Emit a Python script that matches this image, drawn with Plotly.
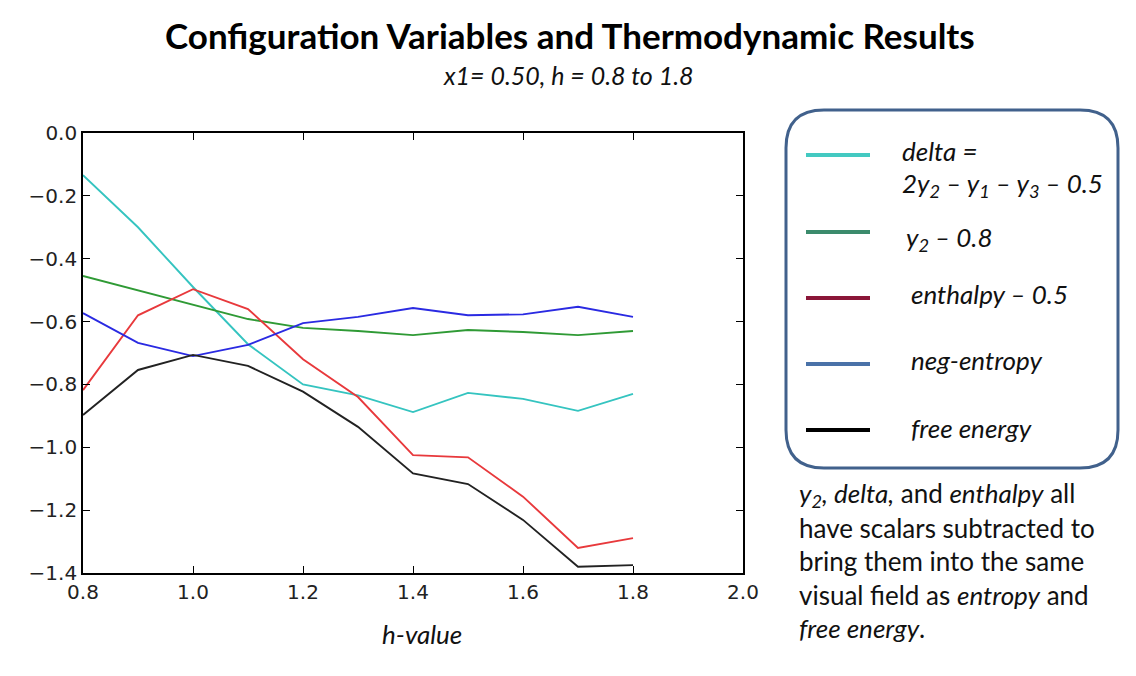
import plotly.graph_objects as go

h_values = [0.8, 0.9, 1.0, 1.1, 1.2, 1.3, 1.4, 1.5, 1.6, 1.7, 1.8]
delta = [-0.134, -0.30, -0.49, -0.672, -0.80, -0.835, -0.888, -0.827, -0.846, -0.884, -0.83]
y2_shift = [-0.455, -0.50, -0.547, -0.592, -0.62, -0.63, -0.643, -0.627, -0.633, -0.643, -0.63]
enthalpy_shift = [-0.818, -0.58, -0.497, -0.56, -0.72, -0.84, -1.025, -1.032, -1.157, -1.32, -1.289]
neg_entropy = [-0.573, -0.668, -0.71, -0.674, -0.605, -0.585, -0.557, -0.58, -0.577, -0.553, -0.585]
free_energy = [-0.897, -0.754, -0.706, -0.741, -0.823, -0.935, -1.083, -1.117, -1.231, -1.38, -1.375]

x_ticks = [0.8, 1.0, 1.2, 1.4, 1.6, 1.8, 2.0]
y_ticks = [0.0, -0.2, -0.4, -0.6, -0.8, -1.0, -1.2, -1.4]

series = [
    (delta, "#35c4c0"),
    (y2_shift, "#2f9a35"),
    (enthalpy_shift, "#e8393c"),
    (neg_entropy, "#2a2ae2"),
    (free_energy, "#222222"),
]

# page offset (browser body margin)
O = 8
W, H = 1136 - 2 * O, 676 - 2 * O
L, R, T, B = 83 - O, 743 - O, 133 - O, 573 - O

def fx(px):
    return (px - O - L) / (R - L)

def fy(py):
    return (B - (py - O)) / (B - T)

fig = go.Figure()
for vals, col in series:
    fig.add_trace(go.Scatter(x=h_values, y=vals, mode="lines",
                             line=dict(color=col, width=1.9), showlegend=False))

axis_common = dict(showline=True, linecolor="black", linewidth=1.6, mirror="allticks",
                   ticks="inside", ticklen=7, tickwidth=1, tickcolor="black",
                   showgrid=False, zeroline=False, tickformat=".1f",
                   tickfont=dict(family="DejaVu Sans", size=20, color="#222"))

fig.update_layout(
    width=W, height=H,
    margin=dict(l=L, r=W - R, t=T, b=H - B),
    paper_bgcolor="white", plot_bgcolor="white",
    xaxis=dict(range=[0.8, 2.0], tickvals=x_ticks, **axis_common),
    yaxis=dict(range=[-1.4, 0.0], tickvals=y_ticks, **axis_common),
)

# Rounded legend box
x0, x1, y0, y1, r = 786, 1118, 110, 468, 38
pts = [
    ("M", (x0 + r, y0)), ("L", (x1 - r, y0)), ("Q", (x1, y0), (x1, y0 + r)),
    ("L", (x1, y1 - r)), ("Q", (x1, y1), (x1 - r, y1)), ("L", (x0 + r, y1)),
    ("Q", (x0, y1), (x0, y1 - r)), ("L", (x0, y0 + r)), ("Q", (x0, y0), (x0 + r, y0)),
]
path = ""
for item in pts:
    cmd = item[0]
    coords = " ".join(f"{fx(p[0]):.5f},{fy(p[1]):.5f}" for p in item[1:])
    path += f"{cmd} {coords} "
path += "Z"
fig.add_shape(type="path", path=path, xref="paper", yref="paper",
              line=dict(color="#41618c", width=3), fillcolor="rgba(0,0,0,0)")

legend_items = [
    (155, "#43c9c1"),
    (232, "#3b8b6c"),
    (298, "#8a1638"),
    (364, "#4a72a8"),
    (430, "#000000"),
]
for py, col in legend_items:
    fig.add_shape(type="line", xref="paper", yref="paper",
                  x0=fx(806), x1=fx(870), y0=fy(py), y1=fy(py),
                  line=dict(color=col, width=4))

text_font = dict(family="Lato", size=26, color="#111")
legend_texts = [
    (900, 151, "<i>delta =</i>"),
    (900, 184, "<i>2y<sub>2</sub> – y<sub>1</sub> – y<sub>3</sub> – 0.5</i>"),
    (904, 238, "<i>y<sub>2</sub> – 0.8</i>"),
    (909, 294, "<i>enthalpy – 0.5</i>"),
    (909, 360, "<i>neg-entropy</i>"),
    (909, 428, "<i>free energy</i>"),
]
for px, py, txt in legend_texts:
    fig.add_annotation(x=fx(px), y=fy(py), xref="paper", yref="paper", text=txt,
                       showarrow=False, xanchor="left", yanchor="middle", font=text_font)

note_lines = [
    "<i>y<sub>2</sub>, delta,</i> and <i>enthalpy</i> all",
    "have scalars subtracted to",
    "bring them into the same",
    "visual field as <i>entropy</i> and",
    "<i>free energy</i>.",
]
for i, line in enumerate(note_lines):
    fig.add_annotation(x=fx(797), y=fy(494 + i * 33.5), xref="paper", yref="paper", text=line,
                       showarrow=False, xanchor="left", yanchor="middle",
                       font=dict(family="Lato", size=26, color="#111"))

fig.add_annotation(x=fx(570), y=fy(35), xref="paper", yref="paper",
                   text="<b>Configuration Variables and Thermodynamic Results</b>",
                   showarrow=False, xanchor="center", yanchor="middle",
                   font=dict(family="Lato", size=35, color="#000"))
fig.add_annotation(x=fx(568), y=fy(75), xref="paper", yref="paper",
                   text="<i>x1= 0.50, h = 0.8 to 1.8</i>",
                   showarrow=False, xanchor="center", yanchor="middle",
                   font=dict(family="Lato", size=25, color="#111"))
fig.add_annotation(x=fx(422), y=fy(634), xref="paper", yref="paper",
                   text="<i>h-value</i>",
                   showarrow=False, xanchor="center", yanchor="middle",
                   font=dict(family="Lato", size=26, color="#111"))

fig.write_html("out.html")
